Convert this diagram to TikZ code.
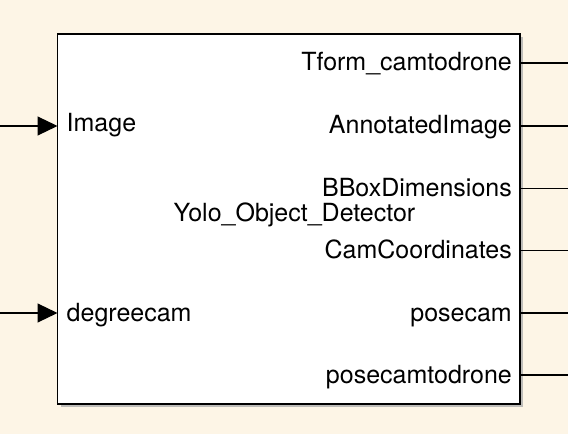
\documentclass[tikz,border=0pt]{standalone}
\usepackage{fontspec}
\setmainfont{TeX Gyre Heros}
\usetikzlibrary{arrows.meta,shadows}
\definecolor{canvas}{RGB}{253,245,230}
\definecolor{shade}{RGB}{140,140,140}
\begin{document}
\begin{tikzpicture}[x=1bp,y=-1bp,
  lbl/.style={inner sep=0pt,font=\fontsize{25bp}{29bp}\selectfont},
  wire/.style={line width=1.1bp,black},
  inwire/.style={wire,-{Triangle[length=20bp,width=19bp]}}]
\useasboundingbox[fill=canvas] (0,0) rectangle (568,434);
% shadow
\fill[shade!70,opacity=0.8] (60.5,37) rectangle (523,407);
\node[draw=black,line width=1.1bp,fill=white,minimum width=462.5bp,minimum height=370bp,inner sep=0pt] (blk) at (288.75,219) {};
% labels
\node[lbl,anchor=base west] (lImage) at (66.5,131.5) {Image};
\node[lbl,anchor=base west] (lDeg) at (66.5,321.5) {degreecam};
\node[lbl,anchor=base] (lName) at (294.5,222) {Yolo\_Object\_Detector};
\node[lbl,anchor=base east] (o1) at (512,71) {Tform\_camtodrone};
\node[lbl,anchor=base east] (o2) at (512,134) {AnnotatedImage};
\node[lbl,anchor=base east] (o3) at (512,196.5) {BBoxDimensions};
\node[lbl,anchor=base east] (o4) at (512,259) {CamCoordinates};
\node[lbl,anchor=base east] (o5) at (512,321) {posecam};
\node[lbl,anchor=base east] (o6) at (512,383) {posecamtodrone};
% ports
\coordinate (i1) at (57.5,126);
\coordinate (i2) at (57.5,313);
\coordinate (s1) at (0,126);
\coordinate (s2) at (0,313);
\foreach \k/\yy in {1/63,2/126,3/188.5,4/250.5,5/313,6/375}{
  \coordinate (p\k) at (520,\yy);
  \coordinate (e\k) at (568,\yy);
  \draw[wire] (p\k) -- (e\k);
}
\draw[inwire] (s1) -- (i1);
\draw[inwire] (s2) -- (i2);
\end{tikzpicture}
\end{document}
